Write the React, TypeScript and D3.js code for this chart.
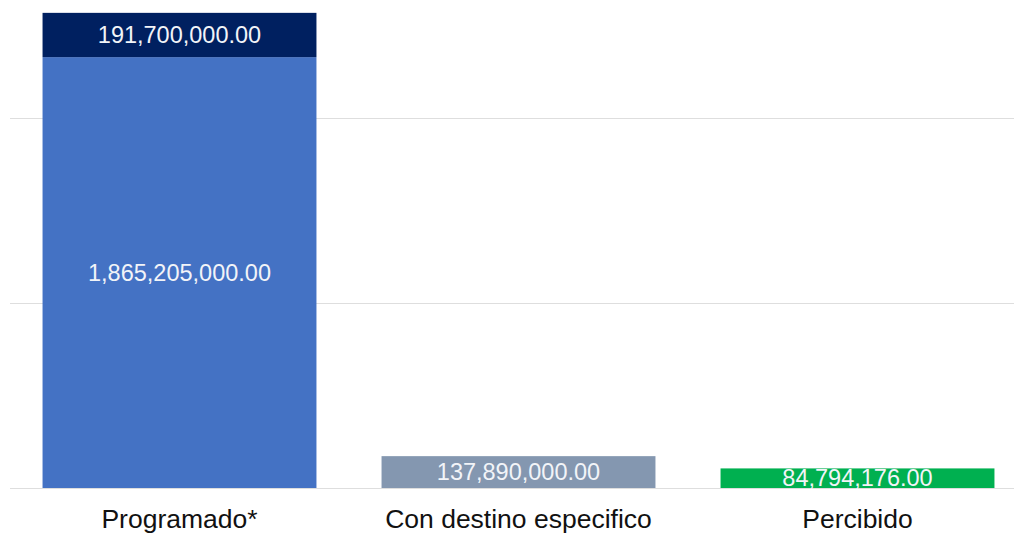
import React from "react";
import * as d3 from "d3";

const categories = ["Programado*", "Con destino especifico", "Percibido"];
const baseValues = [1865205000, 137890000, 84794176];
const topValues = [191700000, 0, 0];
const baseColors = ["#4472C4", "#8497B0", "#00B050"];
const topColor = "#002060";
const gridTicks = [0, 800000000, 1600000000];

const W = 1014;
const H = 534;

const fmt = (v: number) =>
  v.toLocaleString("en-US", { minimumFractionDigits: 2, maximumFractionDigits: 2 });

export default function App() {
  const x = d3
    .scaleBand<string>()
    .domain(categories)
    .range([10, 1027])
    .paddingInner(0.192)
    .paddingOuter(0.096);
  const y = d3.scaleLinear().domain([0, 2000000000]).range([488, 26]);
  const font = "'Liberation Sans', Arial, sans-serif";

  return (
    <svg
      width={W}
      height={H}
      style={{ position: "absolute", left: 0, top: 0, background: "#fff" }}
    >
      {gridTicks.map((t) => (
        <line
          key={t}
          x1={10}
          x2={W}
          y1={Math.round(y(t)) + 0.5}
          y2={Math.round(y(t)) + 0.5}
          stroke="#dedede"
          strokeWidth={1.2}
        />
      ))}
      {categories.map((c, i) => {
        const bx = x(c)!;
        const bw = x.bandwidth();
        const y0 = y(0);
        const y1 = y(baseValues[i]);
        const y2 = y(baseValues[i] + topValues[i]);
        return (
          <g key={c}>
            <rect x={bx} y={y1} width={bw} height={y0 - y1} fill={baseColors[i]} />
            {topValues[i] > 0 && (
              <rect x={bx} y={y2} width={bw} height={y1 - y2} fill={topColor} />
            )}
            <text
              x={bx + bw / 2}
              y={(y0 + y1) / 2}
              dy="0.35em"
              textAnchor="middle"
              fontFamily={font}
              fontSize={23.5}
              fill="#f2f4f8"
            >
              {fmt(baseValues[i])}
            </text>
            {topValues[i] > 0 && (
              <text
                x={bx + bw / 2}
                y={(y1 + y2) / 2}
                dy="0.35em"
                textAnchor="middle"
                fontFamily={font}
                fontSize={23.5}
                fill="#f2f4f8"
              >
                {fmt(topValues[i])}
              </text>
            )}
            <text
              x={bx + bw / 2}
              y={528}
              textAnchor="middle"
              fontFamily={font}
              fontSize={26.5}
              fill="#111"
            >
              {c}
            </text>
          </g>
        );
      })}
    </svg>
  );
}
